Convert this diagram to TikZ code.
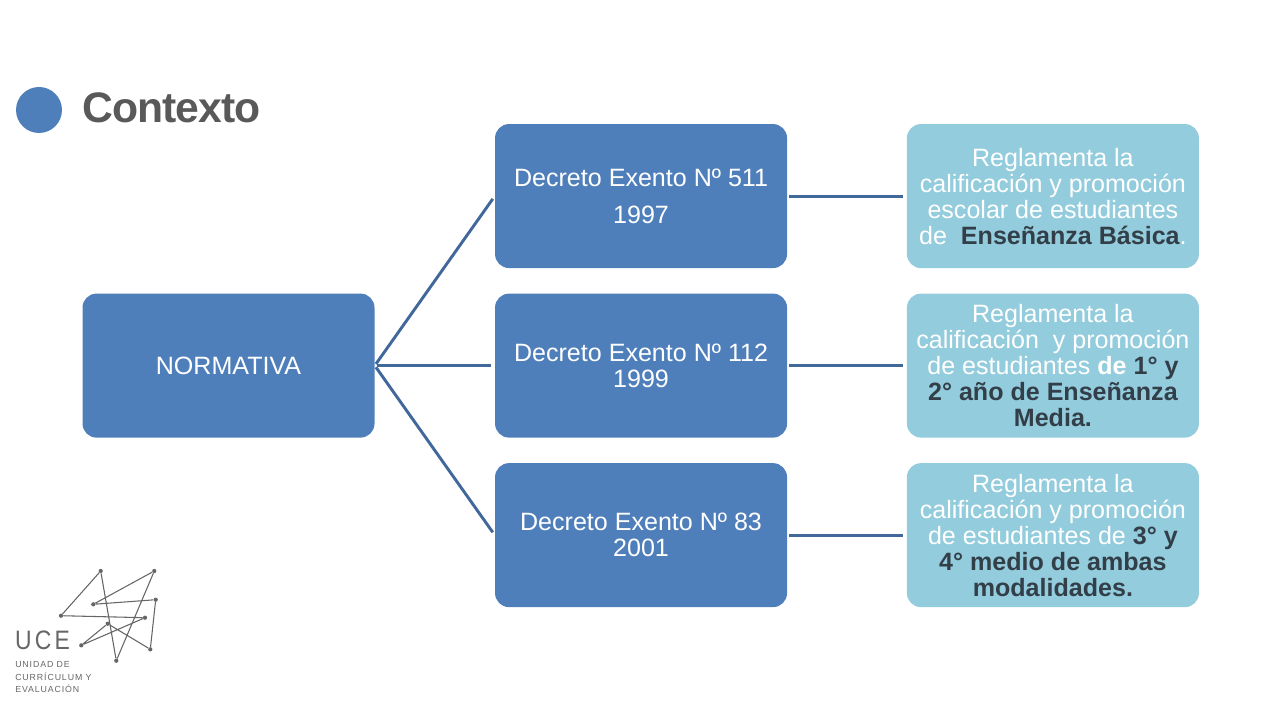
\documentclass[tikz,border=0pt]{standalone}
\usepackage{fontspec}
\setmainfont{Liberation Sans}
\usepackage{xcolor}
\usetikzlibrary{positioning}
\definecolor{boxblue}{HTML}{4F7FBA}
\definecolor{boxlight}{HTML}{93CCDD}
\definecolor{linkblue}{HTML}{41689A}
\definecolor{titlegray}{HTML}{595959}
\definecolor{darktext}{HTML}{333F48}
\definecolor{logogray}{HTML}{666666}
\newcommand{\dk}[1]{{\bfseries\color{darktext}#1}}
\tikzset{
  mainbox/.style={rectangle,rounded corners=10.5pt,fill=boxblue,text=white,
    minimum width=219pt,minimum height=108pt,inner sep=0pt,align=center,
    font=\fontsize{18.8}{19.5}\selectfont},
  notebox/.style={mainbox,fill=boxlight},
  link/.style={draw=linkblue,line width=2.2pt},
  logoline/.style={draw=logogray,line width=.8pt},
  logotext/.style={text=logogray,anchor=west,inner sep=0pt,
    font=\fontsize{6.6}{8}\selectfont\addfontfeature{LetterSpace=10}}
}
\begin{document}
\begin{tikzpicture}[x=.75pt,y=-.75pt,node distance=18.75pt]
\useasboundingbox (0,0) rectangle (1280,720);
% title
\node[circle,fill=boxblue,minimum size=34.5pt,inner sep=0pt] (dot) at (39,110) {};
\node[anchor=west,inner sep=0pt,text=titlegray,
      font=\fontsize{32}{36}\bfseries\selectfont\addfontfeature{LetterSpace=-2.3}] (title) at (82,108) {Contexto};
% boxes
\node[mainbox] (norma) at (228.5,365.6) {NORMATIVA};
\node[mainbox,right = 90pt of norma] (dec112) {Decreto Exento Nº 112\\1999};
\node[mainbox,above = of dec112] (dec511) {Decreto Exento Nº 511\\[8pt]1997};
\node[mainbox,below = of dec112] (dec83) {Decreto Exento Nº 83\\2001};
\node[notebox,right = 89.5pt of dec511] (not511) {Reglamenta la\\calificación y promoción\\escolar de estudiantes\\de \ \dk{Enseñanza Básica}.};
\node[notebox,right = 89.5pt of dec112] (not112) {Reglamenta la\\calificación \ y promoción\\de estudiantes \textbf{de} \dk{1° y}\\\dk{2° año de Enseñanza}\\\dk{Media.}};
\node[notebox,right = 89.5pt of dec83] (not83) {Reglamenta la\\calificación y promoción\\de estudiantes de \dk{3° y}\\\dk{4° medio de ambas}\\\dk{modalidades.}};
% links
\path[link,shorten <=1.5pt,shorten >=2.6pt]
      (norma.east) edge (dec511.west)
                   edge (dec112.west)
                   edge (dec83.west)
      (dec511.east) edge (not511.west)
      (dec112.east) edge (not112.west)
      (dec83.east) edge (not83.west);
% logo
\foreach \name/\px/\py in {a/100.7/571,b/154.3/571,c/93.3/604.3,d/155.7/599.7,e/61/615.7,
                           f/145/617.7,g/107.7/623.7,h/81.3/645.3,i/150.3/649.3,j/116.3/660.7}
  \node[circle,fill=logogray,minimum size=3.2pt,inner sep=0pt] (\name) at (\px,\py) {};
\draw[logoline] (e) -- (a) -- (j) -- (b) -- (c) -- (d) -- (i) -- (g) -- (h) -- (f) -- (e);
\node[logotext,xscale=.86,transform shape,font=\fontsize{20}{24}\selectfont\addfontfeature{LetterSpace=14}] (uce) at (15,640) {UCE};
\node[logotext] (uce1) at (15,665) {UNIDAD DE};
\node[logotext] (uce2) at (15,677) {CURRÍCULUM Y};
\node[logotext] (uce3) at (15,689) {EVALUACIÓN};
\end{tikzpicture}
\end{document}
